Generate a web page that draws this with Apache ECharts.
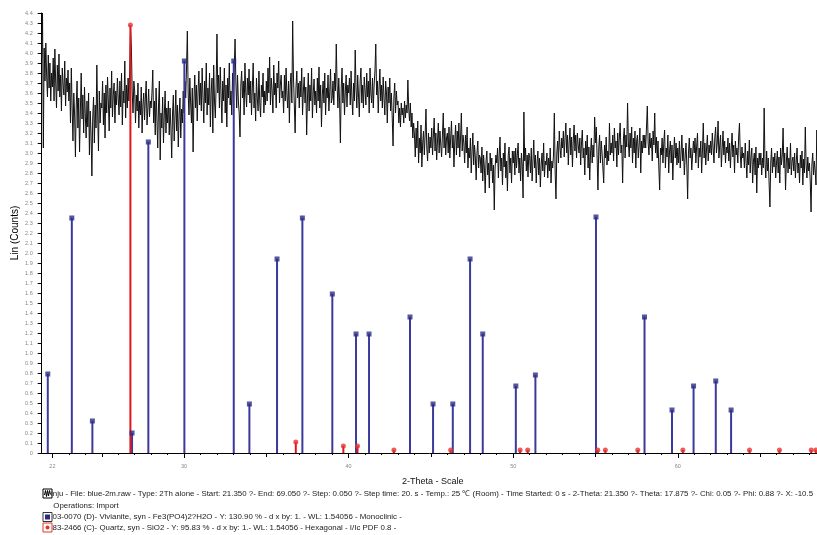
<!DOCTYPE html>
<html><head><meta charset="utf-8">
<script src="https://cdn.jsdelivr.net/npm/echarts@6/dist/echarts.min.js"></script>
<style>html,body{margin:0;padding:0;background:#fff}#c{width:817px;height:535px}</style>
</head><body><div id="c"></div>
<script>
// Scan parameters (from the legend text)
const start2Theta = 21.35;
const step2Theta = 0.05;
// Measured trace, Lin (Counts) in hundredths of the axis unit, one value per step
const counts = [
395,440,305,405,372,410,378,356,398,365,390,352,380,
366,395,352,404,370,345,388,362,399,356,378,342,385,368,358,392,347,375,361,383,
352,370,330,385,345,312,360,338,296,348,372,325,355,301,342,380,334,358,320,366,
338,315,352,326,360,298,342,318,277,335,356,310,348,325,388,340,302,362,330,350,
345,372,328,360,315,368,340,376,352,322,365,345,382,336,358,370,330,362,348,375,
355,338,372,346,380,328,362,350,392,335,368,345,375,352,385,425,405,360,340,372,
362,330,358,342,370,325,352,338,366,320,348,360,333,355,372,328,345,364,336,352,
345,360,383,330,352,318,365,335,305,348,372,293,340,325,356,310,338,362,320,345,
330,352,318,345,326,295,340,358,312,336,363,322,348,306,338,355,315,344,330,362,
340,372,355,385,422,360,338,375,350,330,365,301,352,378,345,368,332,360,382,348,
370,342,385,356,330,372,350,390,338,365,348,380,326,362,375,320,388,352,335,368,
419,360,378,345,386,358,330,372,352,385,340,368,326,375,355,390,348,362,338,380,
360,385,414,370,345,378,352,340,316,368,382,355,372,338,390,360,346,375,358,384,
350,372,338,365,390,345,360,332,375,355,342,382,350,336,368,356,380,340,362,348,
372,352,385,360,396,348,375,362,340,388,358,370,345,380,365,392,350,368,378,355,
362,340,378,352,385,358,345,372,330,368,380,350,432,375,348,320,365,382,355,370,
345,372,356,385,338,362,376,350,366,318,355,380,342,368,352,385,335,360,374,348,
362,340,375,352,386,345,368,326,358,372,350,380,338,365,355,378,342,360,384,350,
355,372,348,380,362,409,368,345,375,352,310,365,385,350,370,338,362,378,346,368,
360,375,348,382,355,338,370,352,403,365,345,378,358,336,372,385,350,368,345,376,
362,348,380,356,372,340,385,360,350,375,345,368,382,409,358,372,340,365,384,352,
368,345,376,355,338,372,360,330,366,350,375,342,360,335,307,355,370,340,362,348,
352,330,345,326,350,338,345,330,352,335,348,340,373,345,332,350,326,340,315,330,
318,296,325,305,332,290,315,300,328,286,310,322,298,318,344,305,292,320,300,316,
305,325,298,318,335,302,320,293,312,330,300,322,308,296,318,340,305,325,298,315,
320,300,326,295,315,332,305,318,286,312,328,298,322,305,330,296,315,340,302,318,
310,290,318,300,326,285,305,295,315,280,302,320,288,308,296,273,300,312,285,298,
295,280,306,272,298,285,260,292,302,278,290,265,300,282,295,270,288,243,285,298,
290,305,275,298,316,282,295,268,300,286,310,275,292,262,298,306,280,295,270,302,
290,302,278,305,285,298,310,280,295,272,300,288,255,341,292,305,282,298,276,300,
296,280,305,272,292,313,285,298,270,290,302,278,295,266,288,300,282,310,276,292,
288,300,275,295,282,305,270,292,285,298,340,280,254,300,312,290,322,305,295,315,
305,322,296,315,330,300,318,288,310,325,298,316,286,312,328,302,318,295,320,308,
300,315,288,310,323,295,305,278,312,298,318,285,306,273,300,315,290,308,296,336,
310,326,295,263,305,318,290,312,300,285,270,308,295,316,288,302,292,330,298,310,
300,318,292,325,305,312,286,320,298,315,330,300,308,270,315,325,295,318,306,350,
310,296,320,305,326,290,315,300,322,285,312,318,295,308,325,280,312,300,318,305,
318,305,326,347,310,298,320,305,315,292,322,308,340,300,316,295,312,285,263,305,
298,315,290,310,323,285,305,296,318,280,302,312,290,308,273,300,316,295,310,288,
305,290,312,285,300,318,292,305,278,296,310,288,254,300,315,295,305,283,298,312,
300,315,290,308,320,285,305,296,312,280,302,330,295,310,288,305,318,292,308,300,
312,298,320,305,290,315,326,300,310,332,295,308,318,286,305,322,298,312,290,306,
300,315,292,310,285,305,320,296,308,280,312,298,305,290,316,330,298,285,306,295,
300,285,310,292,275,302,288,313,280,296,305,270,292,300,278,306,260,295,285,300,
288,300,278,295,285,345,290,275,302,282,295,270,246,290,305,280,296,286,300,275,
290,302,280,296,270,305,288,298,325,285,300,263,292,306,280,295,284,310,278,292,
296,282,300,275,292,305,280,290,270,298,285,302,268,294,280,326,288,275,296,282,
290,272,241,288,300,278,292,282,268,323,285,276,295,280,290,270,286,296,278,288,
284,276
];
// Reference pattern 03-0070 Vivianite: 2-theta positions and Lin heights
const vivianite2Theta = [21.72,23.18,24.43,26.84,27.83,30.02,33.02,33.97,35.65,37.19,39.01,40.45,41.24,43.73,45.13,46.33,47.38,48.15,50.16,51.35,55.03,57.98,59.65,60.96,62.31,63.24];
const vivianiteLin    = [0.79,2.35,0.32,0.20,3.11,3.92,3.92,0.49,1.94,2.35,1.59,1.19,1.19,1.36,0.49,0.49,1.94,1.19,0.67,0.78,2.36,1.36,0.43,0.67,0.72,0.43];
// Reference pattern 83-2466 Quartz
const quartz2Theta = [26.74,36.79,39.68,40.54,42.75,46.20,50.42,50.88,55.14,55.60,57.57,60.31,64.36,66.18,68.11,68.39];
const quartzLin    = [4.28,0.11,0.07,0.07,0.03,0.03,0.03,0.03,0.03,0.03,0.03,0.03,0.03,0.03,0.03,0.03];
// Axis ticks and labels
const xLabelValues = [22,30,40,50,60];
const xMinorTicks = [];
for (let v = 22; v <= 69; v++) xMinorTicks.push(v);
const xMidTicks = [25,35,45,55,65];
const xMajorTicks = [22,30,40,50,60];

const footer1 = 'inju - File: blue-2m.raw - Type: 2Th alone - Start: 21.350 ?- End: 69.050 ?- Step: 0.050 ?- Step time: 20. s - Temp.: 25 \u2103 (Room) - Time Started: 0 s - 2-Theta: 21.350 ?- Theta: 17.875 ?- Chi: 0.05 ?- Phi: 0.88 ?- X: -10.5';
const footer2 = 'Operations: Import';
const footer3 = '03-0070 (D)- Vivianite, syn - Fe3(PO4)2?H2O - Y: 130.90 % - d x by: 1. - WL: 1.54056 - Monoclinic -';
const footer4 = '83-2466 (C)- Quartz, syn - SiO2 - Y: 95.83 % - d x by: 1.- WL: 1.54056 - Hexagonal - I/Ic PDF 0.8 -';

const trace = counts.map((c, i) => [+(start2Theta + i * step2Theta).toFixed(2), c / 100]);
const viv = vivianite2Theta.map((x, i) => [x, vivianiteLin[i]]);
const qtz = quartz2Theta.map((x, i) => [x, quartzLin[i]]);

const FONT = 'Liberation Sans, Arial, sans-serif';
const BLUE = '#3a3a9c', BLUE_MK = '#2a2a86', RED = '#e3151c', RED_MK = '#e5322f';

function stem(color, width) {
  return function (params, api) {
    const p0 = api.coord([api.value(0), 0]);
    const p1 = api.coord([api.value(0), api.value(1)]);
    return { type: 'line', shape: { x1: p0[0], y1: p0[1], x2: p1[0], y2: p1[1] },
      style: { stroke: color, lineWidth: width } };
  };
}

const baseX = { type: 'value', min: 21.35, max: 69.05, gridIndex: 0, position: 'bottom',
  splitLine: { show: false } };

const chart = echarts.init(document.getElementById('c'), null, { renderer: 'canvas' });
chart.setOption({
  animation: false,
  backgroundColor: '#fff',
  grid: { left: 41.7, width: 785, top: 13, height: 440, containLabel: false, outerBoundsMode: 'none' },
  xAxis: [
    Object.assign({}, baseX, {
      axisLine: { show: true, lineStyle: { color: '#000', width: 1 } },
      axisTick: { show: true, customValues: xMajorTicks, length: 5, lineStyle: { color: '#000' } },
      axisLabel: { show: true, customValues: xLabelValues, fontSize: 5.5, color: '#888', margin: 10, fontFamily: FONT }
    }),
    Object.assign({}, baseX, {
      axisLine: { show: false },
      axisTick: { show: true, customValues: xMinorTicks, length: 2, lineStyle: { color: '#000' } },
      axisLabel: { show: false }
    }),
    Object.assign({}, baseX, {
      axisLine: { show: false },
      axisTick: { show: true, customValues: xMidTicks, length: 4, lineStyle: { color: '#000' } },
      axisLabel: { show: false }
    })
  ],
  yAxis: {
    type: 'value', min: 0, max: 4.4, interval: 0.1,
    name: 'Lin (Counts)', nameLocation: 'middle', nameRotate: 90, nameGap: 21, nameMoveOverlap: false,
    nameTextStyle: { fontSize: 10, color: '#000', fontFamily: FONT },
    axisLine: { show: true, lineStyle: { color: '#000', width: 1 } },
    axisTick: { show: true, length: 4, lineStyle: { color: '#000' } },
    axisLabel: { fontSize: 5.5, color: '#888', margin: 9, fontFamily: FONT,
      formatter: v => (Math.abs(v) < 1e-9 ? '0' : v.toFixed(1)) },
    splitLine: { show: false }
  },
  series: [
    { type: 'line', data: trace, showSymbol: false, sampling: 'none', z: 2,
      lineStyle: { color: '#111', width: 1 }, silent: true },
    { type: 'custom', data: viv, renderItem: stem(BLUE, 2), encode: { x: 0, y: 1 }, z: 3, silent: true },
    { type: 'custom', data: qtz, renderItem: stem(RED, 2), encode: { x: 0, y: 1 }, z: 4, silent: true },
    { type: 'scatter', data: viv, symbol: 'rect', symbolSize: 5, itemStyle: { color: BLUE_MK }, z: 5, silent: true },
    { type: 'scatter', data: qtz, symbol: 'circle', symbolSize: 5, itemStyle: { color: RED_MK }, z: 6, silent: true }
  ],
  graphic: [
    { type: 'text', left: 402, top: 477, style: { text: '2-Theta - Scale', font: '9px ' + FONT, fill: '#111' } },
    { type: 'rect', shape: { x: 43, y: 489, width: 9, height: 9 }, style: { fill: '#fff', stroke: '#000', lineWidth: 1 } },
    { type: 'polyline', shape: { points: [[44.5,495],[45.5,490.5],[46.5,496.5],[47.5,490.5],[48.5,496],[49.5,490.5],[50.5,494.5]] }, style: { stroke: '#000', lineWidth: 1, fill: null } },
    { type: 'text', x: 51, y: 493.5, style: { text: footer1, font: '7.9px ' + FONT, fill: '#222', textVerticalAlign: 'middle' } },
    { type: 'text', x: 53.3, y: 505.7, style: { text: footer2, font: '7.9px ' + FONT, fill: '#222', textVerticalAlign: 'middle' } },
    { type: 'rect', shape: { x: 43, y: 512.5, width: 9, height: 9 }, style: { fill: '#fff', stroke: '#333', lineWidth: 1 } },
    { type: 'rect', shape: { x: 45, y: 514.5, width: 5, height: 5 }, style: { fill: BLUE_MK } },
    { type: 'text', x: 52.5, y: 517, style: { text: footer3, font: '7.9px ' + FONT, fill: '#222', textVerticalAlign: 'middle' } },
    { type: 'rect', shape: { x: 43, y: 523, width: 9, height: 9 }, style: { fill: '#fff', stroke: RED_MK, lineWidth: 1 } },
    { type: 'circle', shape: { cx: 47.5, cy: 527.5, r: 2 }, style: { fill: RED_MK } },
    { type: 'text', x: 52.5, y: 527.5, style: { text: footer4, font: '7.9px ' + FONT, fill: '#222', textVerticalAlign: 'middle' } }
  ]
});
</script></body></html>
